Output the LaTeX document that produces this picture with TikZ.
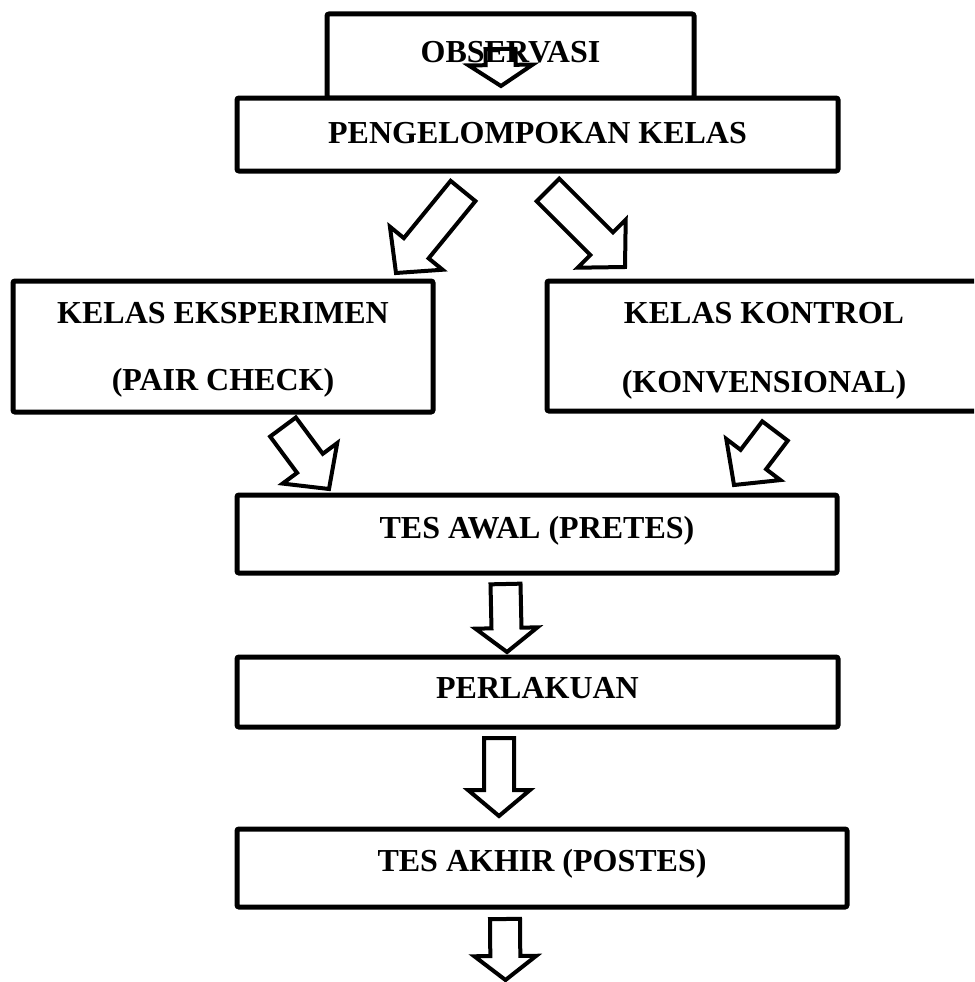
\documentclass[tikz,border=0pt]{standalone}
\usepackage{fontspec}
\setmainfont{Liberation Serif}
\usetikzlibrary{calc}
\tikzset{
  box/.style={draw, line width=5pt, rounded corners=2pt, inner sep=0pt, outer sep=0pt},
  lbl/.style={font=\fontsize{32}{38}\selectfont\bfseries, inner sep=0pt, anchor=base},
  barrow/.style={draw, line width=4pt, line join=miter},
}
% tail, tip, shaft half width, head half width, head length
\newcommand\blockarrow[5]{%
  \coordinate (ba-c) at ($(#2)!#5!(#1)$);
  \draw[barrow] ($(#1)!#3!90:(#2)$) -- ($(ba-c)!#3!-90:(#1)$) -- ($(ba-c)!#4!-90:(#1)$) -- (#2)
    -- ($(ba-c)!#4!90:(#1)$) -- ($(ba-c)!#3!90:(#1)$) -- ($(#1)!#3!-90:(#2)$) -- cycle;}
\begin{document}
\begin{tikzpicture}[x=1pt,y=-1pt]
\useasboundingbox (0,0) rectangle (974,982);
\clip (0,0) rectangle (974,982);

% boxes
\node[box, minimum width=367pt, minimum height=84pt] (obs) at (510.5,56) {};
\node[box, minimum width=601pt, minimum height=73pt, fill=white] (peng) at (537.5,134.5) {};
\node[box, minimum width=420pt, minimum height=131pt] (eks) at (223,346.5) {};
\node[box, minimum width=434pt, minimum height=130pt] (kon) at (764,346) {};
\node[box, minimum width=600pt, minimum height=78pt] (awal) at (537,534) {};
\node[box, minimum width=601pt, minimum height=70pt] (perl) at (537.5,692) {};
\node[box, minimum width=610pt, minimum height=78pt] (akhir) at (542,868) {};

% texts
\node[lbl] (obs-t) at (510.5,63) {OBSERVASI};
\node[lbl] (peng-t) at (537.5,143) {PENGELOMPOKAN KELAS};
\node[lbl] (eks-t1) at (223,323) {KELAS EKSPERIMEN};
\node[lbl] (eks-t2) at (223,390) {(PAIR CHECK)};
\node[lbl] (kon-t1) at (764,323) {KELAS KONTROL};
\node[lbl] (kon-t2) at (764,392) {(KONVENSIONAL)};
\node[lbl] (awal-t) at (537,538) {TES AWAL (PRETES)};
\node[lbl] (perl-t) at (537.5,698) {PERLAKUAN};
\node[lbl] (akhir-t) at (542,871) {TES AKHIR (POSTES)};

% arrow ends
\coordinate (a0s) at (500.5,49);  \coordinate (a0e) at (501,86);
\coordinate (a1s) at (463,191);   \coordinate (a1e) at (396,273);
\coordinate (a2s) at (548,190);   \coordinate (a2e) at (625,267);
\coordinate (a3s) at (283,427);   \coordinate (a3e) at (329,489);
\coordinate (a4s) at (775,431);   \coordinate (a4e) at (734,485);
\coordinate (a5s) at (505.5,584); \coordinate (a5e) at (507,652);
\coordinate (a6s) at (499,738);   \coordinate (a6e) at (499,816);
\coordinate (a7s) at (505,919);   \coordinate (a7e) at (505.5,980);

\blockarrow{a0s}{a0e}{15pt}{32pt}{21pt}
\blockarrow{a1s}{a1e}{16pt}{34pt}{32pt}
\blockarrow{a2s}{a2e}{16pt}{34pt}{33pt}
\blockarrow{a3s}{a3e}{16pt}{34pt}{32pt}
\blockarrow{a4s}{a4e}{16pt}{34pt}{32pt}
\blockarrow{a5s}{a5e}{15pt}{31pt}{24pt}
\blockarrow{a6s}{a6e}{15pt}{31pt}{26pt}
\blockarrow{a7s}{a7e}{15pt}{31pt}{24pt}
\end{tikzpicture}
\end{document}
